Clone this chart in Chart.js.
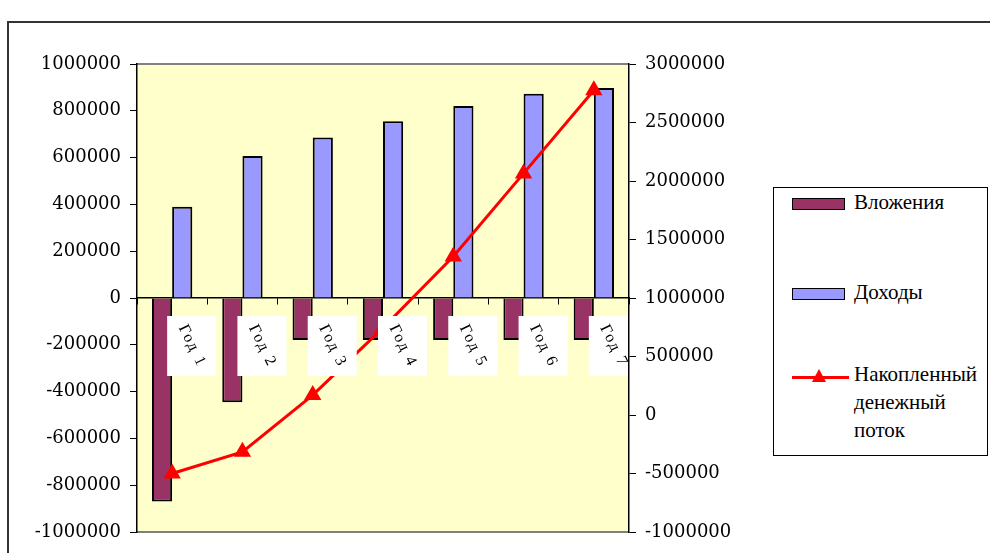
<!DOCTYPE html>
<html>
<head>
<meta charset="utf-8">
<script src="https://cdn.jsdelivr.net/npm/chart.js@4.4.1/dist/chart.umd.min.js"></script>
<style>
  body { margin: 0; background: #fff; }
  #wrap { position: relative; width: 990px; height: 553px; overflow: hidden; }
  #frame { position: absolute; left: 7px; top: 21px; width: 1000px; height: 600px; border: 2px solid #333; }
  #cf { position: absolute; left: 0; top: 0; }
  #legend {
    position: absolute; left: 773px; top: 187px; width: 213px; height: 267px;
    border: 1px solid #000; background: #fff;
    font: 21px "Liberation Serif", "Times New Roman", serif; color: #000;
  }
  .item { position: absolute; left: 0; width: 100%; }
  .swatch { position: absolute; left: 18px; width: 51px; height: 10px; border: 1.5px solid #000; }
  .mark { position: absolute; left: 18px; width: 57px; height: 3px; background: #f00; }
  .mark::after {
    content: ""; position: absolute; left: 20px; top: -7px;
    border-left: 7px solid transparent; border-right: 7px solid transparent; border-bottom: 13px solid #f00;
  }
  .txt { position: absolute; left: 80px; line-height: 28px; white-space: pre; }
</style>
</head>
<body>
<div id="wrap">
  <div id="frame"></div>
  <canvas id="cf" width="990" height="553"></canvas>
  <div id="legend"></div>
</div>
<script>
// categories and series
const years = ['Год 1', 'Год 2', 'Год 3', 'Год 4', 'Год 5', 'Год 6', 'Год 7'];
const investments = [-870000, -446000, -180000, -180000, -180000, -180000, -180000];
const income = [390000, 607000, 686000, 755000, 821000, 873000, 897000];
const cumulative = [-500000, -315000, 170000, 745000, 1355000, 2065000, 2775000];

// axis ranges
const leftTicks = { min: -1000000, max: 1000000, step: 200000 };
const rightTicks = { min: -1000000, max: 3000000, step: 500000 };

const tickFont = { family: '"DejaVu Serif", serif', size: 18 };
const plainNumber = v => String(v);

// yellow plot area with grey top/bottom edge
const plotBack = {
  id: 'plotBack',
  beforeDraw(chart) {
    const { ctx, chartArea: a } = chart;
    ctx.save();
    ctx.fillStyle = '#ffffcc';
    ctx.fillRect(a.left, a.top, a.right - a.left, a.bottom - a.top);
    ctx.strokeStyle = '#808080';
    ctx.lineWidth = 2;
    ctx.beginPath();
    ctx.moveTo(a.left, a.top); ctx.lineTo(a.right, a.top);
    ctx.moveTo(a.left, a.bottom); ctx.lineTo(a.right, a.bottom);
    ctx.stroke();
    ctx.restore();
  }
};

// rotated year labels on white boxes under the zero line
const yearLabels = {
  id: 'yearLabels',
  afterDatasetsDraw(chart) {
    const { ctx, chartArea: a, scales: { x, y } } = chart;
    const top = y.getPixelForValue(0) + 18;
    ctx.save();
    ctx.beginPath();
    ctx.rect(a.left, a.top, a.right - a.left - 1, a.bottom - a.top);
    ctx.clip();
    ctx.font = '16px "Liberation Serif", serif';
    ctx.textAlign = 'center';
    ctx.textBaseline = 'middle';
    years.forEach((lbl, i) => {
      const cx = x.getPixelForValue(i) + 19;
      ctx.fillStyle = '#fff';
      ctx.fillRect(cx - 24, top, 49, 60);
      ctx.save();
      ctx.translate(cx + 1, top + 30);
      ctx.rotate(64 * Math.PI / 180);
      ctx.fillStyle = '#000';
      ctx.letterSpacing = '2px';
      ctx.fillText(lbl, 0, 0);
      ctx.restore();
    });
    ctx.restore();
  }
};

const chart = new Chart(document.getElementById('cf'), {
  data: {
    labels: years,
    datasets: [
      {
        type: 'bar', label: 'Вложения', data: investments, yAxisID: 'y', order: 2,
        backgroundColor: '#993366', borderColor: '#000', borderWidth: 2,
        categoryPercentage: 0.574, barPercentage: 1
      },
      {
        type: 'bar', label: 'Доходы', data: income, yAxisID: 'y', order: 2,
        backgroundColor: '#9999ff', borderColor: '#000', borderWidth: 2,
        categoryPercentage: 0.574, barPercentage: 1
      },
      {
        type: 'line', label: 'Накопленный\nденежный\nпоток', data: cumulative, yAxisID: 'y1', order: 1,
        borderColor: '#ff0000', borderWidth: 3, tension: 0,
        pointStyle: 'triangle', pointRadius: 7, pointBackgroundColor: '#ff0000', pointBorderColor: '#ff0000'
      }
    ]
  },
  options: {
    responsive: false,
    animation: false,
    layout: { padding: { left: 0, right: 231, top: 64, bottom: 21 } },
    plugins: { legend: { display: false }, tooltip: { enabled: false } },
    scales: {
      x: {
        position: { y: 0 },
        offset: true,
        grid: { offset: true, drawOnChartArea: false, tickLength: 6, color: '#000' },
        border: { color: '#000', width: 1.5 },
        ticks: { display: false }
      },
      y: {
        position: 'left',
        min: leftTicks.min, max: leftTicks.max,
        grid: { drawOnChartArea: false, tickLength: 7, color: '#000' },
        border: { color: '#000', width: 1.5 },
        ticks: { stepSize: leftTicks.step, color: '#000', font: tickFont, padding: 9, callback: plainNumber },
        afterFit(s) { s.width = 137; }
      },
      y1: {
        position: 'right',
        min: rightTicks.min, max: rightTicks.max,
        grid: { drawOnChartArea: false, tickLength: 7, color: '#000' },
        border: { color: '#000', width: 1.5 },
        ticks: { stepSize: rightTicks.step, color: '#000', font: tickFont, padding: 9, callback: plainNumber },
        afterFit(s) { s.width = 130; }
      }
    }
  },
  plugins: [plotBack, yearLabels]
});

// legend built from the datasets
const legend = document.getElementById('legend');
const itemTops = [0, 90, 172];
chart.data.datasets.forEach((ds, i) => {
  const item = document.createElement('div');
  item.className = 'item';
  item.style.top = itemTops[i] + 'px';
  const key = document.createElement('div');
  if (ds.type === 'bar') {
    key.className = 'swatch';
    key.style.top = '10px';
    key.style.background = ds.backgroundColor;
  } else {
    key.className = 'mark';
    key.style.top = '16px';
  }
  const txt = document.createElement('div');
  txt.className = 'txt';
  txt.textContent = ds.label;
  item.appendChild(key);
  item.appendChild(txt);
  legend.appendChild(item);
});
</script>
</body>
</html>
